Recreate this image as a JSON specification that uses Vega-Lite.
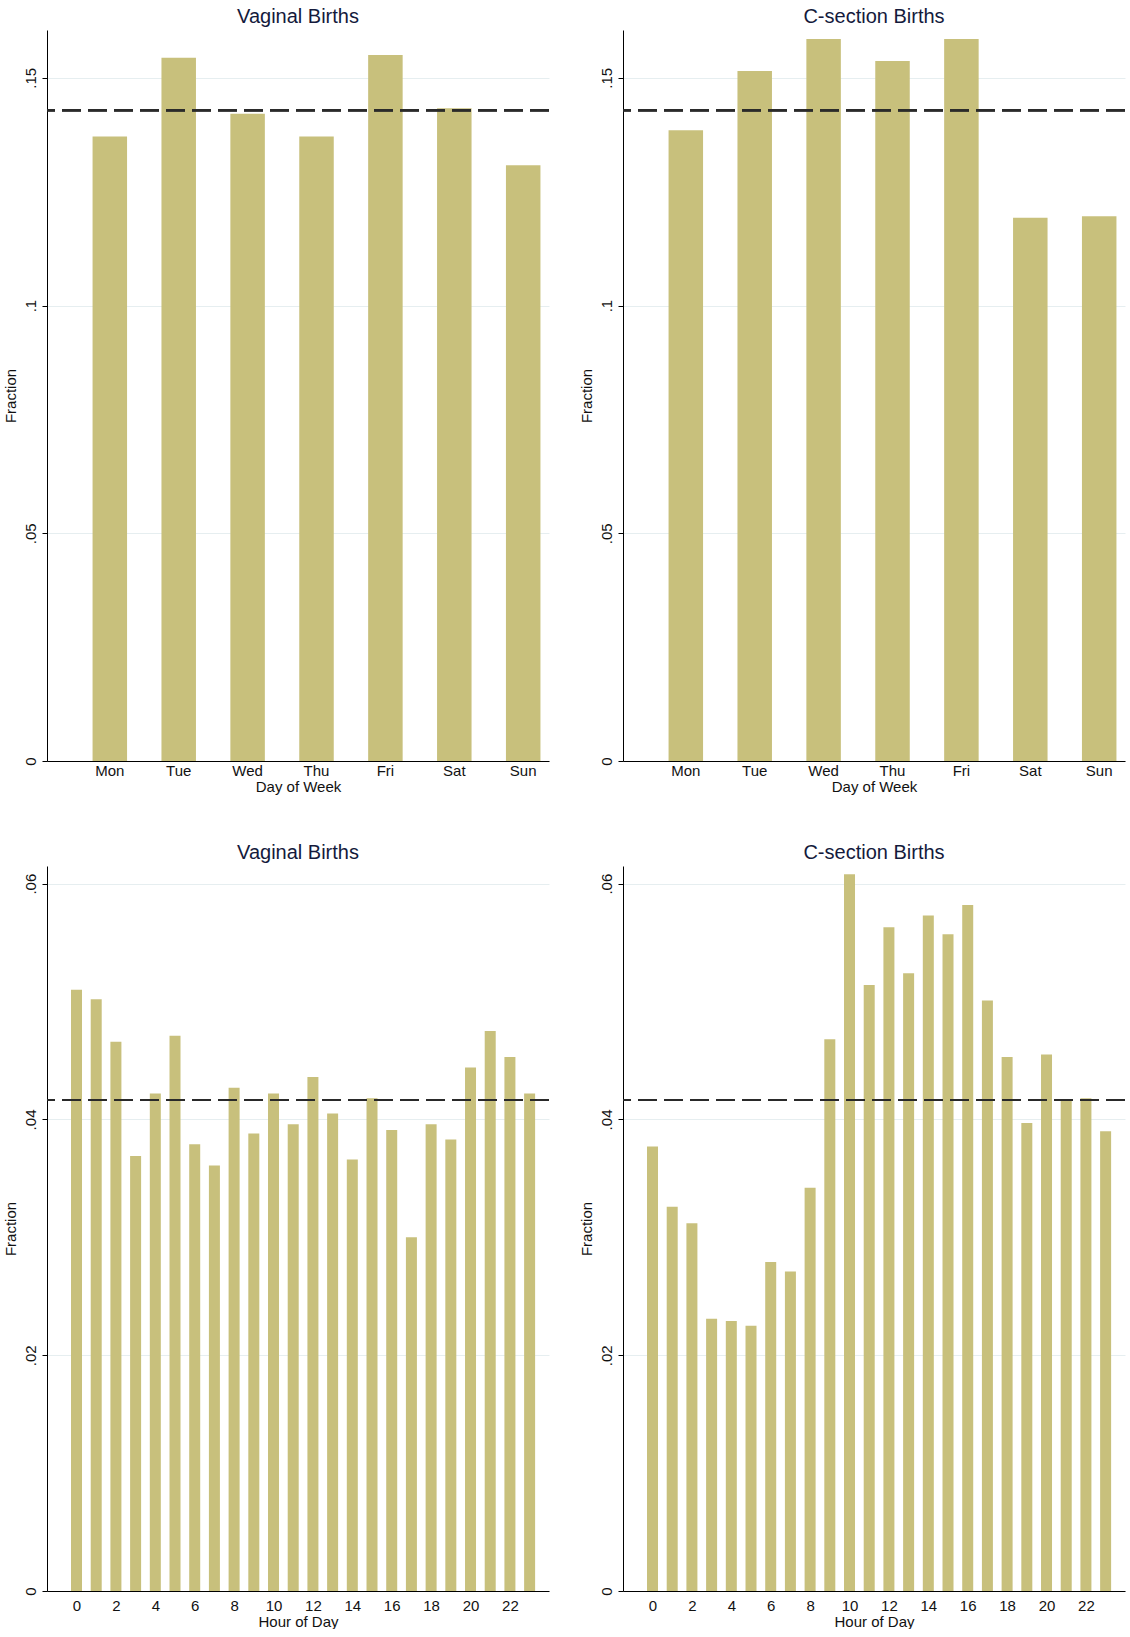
{
  "$schema": "https://vega.github.io/schema/vega-lite/v6.json",
  "background": "white",
  "padding": {"left": 2, "top": 7, "right": 0, "bottom": 0},
  "datasets": {
    "vag_day": [
      {"day": "Mon", "fraction": 0.1371},
      {"day": "Tue", "fraction": 0.1544},
      {"day": "Wed", "fraction": 0.1421},
      {"day": "Thu", "fraction": 0.1371},
      {"day": "Fri", "fraction": 0.1550},
      {"day": "Sat", "fraction": 0.1433},
      {"day": "Sun", "fraction": 0.1308}
    ],
    "cs_day": [
      {"day": "Mon", "fraction": 0.1385},
      {"day": "Tue", "fraction": 0.1515},
      {"day": "Wed", "fraction": 0.1585},
      {"day": "Thu", "fraction": 0.1537},
      {"day": "Fri", "fraction": 0.1585},
      {"day": "Sat", "fraction": 0.1193},
      {"day": "Sun", "fraction": 0.1196}
    ],
    "vag_hour": [
      {"hour": 0, "fraction": 0.0510},
      {"hour": 1, "fraction": 0.0502},
      {"hour": 2, "fraction": 0.0466},
      {"hour": 3, "fraction": 0.0369},
      {"hour": 4, "fraction": 0.0422},
      {"hour": 5, "fraction": 0.0471},
      {"hour": 6, "fraction": 0.0379},
      {"hour": 7, "fraction": 0.0361},
      {"hour": 8, "fraction": 0.0427},
      {"hour": 9, "fraction": 0.0388},
      {"hour": 10, "fraction": 0.0422},
      {"hour": 11, "fraction": 0.0396},
      {"hour": 12, "fraction": 0.0436},
      {"hour": 13, "fraction": 0.0405},
      {"hour": 14, "fraction": 0.0366},
      {"hour": 15, "fraction": 0.0418},
      {"hour": 16, "fraction": 0.0391},
      {"hour": 17, "fraction": 0.0300},
      {"hour": 18, "fraction": 0.0396},
      {"hour": 19, "fraction": 0.0383},
      {"hour": 20, "fraction": 0.0444},
      {"hour": 21, "fraction": 0.0475},
      {"hour": 22, "fraction": 0.0453},
      {"hour": 23, "fraction": 0.0422}
    ],
    "cs_hour": [
      {"hour": 0, "fraction": 0.0377},
      {"hour": 1, "fraction": 0.0326},
      {"hour": 2, "fraction": 0.0312},
      {"hour": 3, "fraction": 0.0231},
      {"hour": 4, "fraction": 0.0229},
      {"hour": 5, "fraction": 0.0225},
      {"hour": 6, "fraction": 0.0279},
      {"hour": 7, "fraction": 0.0271},
      {"hour": 8, "fraction": 0.0342},
      {"hour": 9, "fraction": 0.0468},
      {"hour": 10, "fraction": 0.0608},
      {"hour": 11, "fraction": 0.0514},
      {"hour": 12, "fraction": 0.0563},
      {"hour": 13, "fraction": 0.0524},
      {"hour": 14, "fraction": 0.0573},
      {"hour": 15, "fraction": 0.0557},
      {"hour": 16, "fraction": 0.0582},
      {"hour": 17, "fraction": 0.0501},
      {"hour": 18, "fraction": 0.0453},
      {"hour": 19, "fraction": 0.0397},
      {"hour": 20, "fraction": 0.0455},
      {"hour": 21, "fraction": 0.0416},
      {"hour": 22, "fraction": 0.0418},
      {"hour": 23, "fraction": 0.0390}
    ]
  },
  "config": {
    "font": "Liberation Sans",
    "view": {"stroke": null},
    "title": {"fontSize": 20, "fontWeight": "normal", "color": "#141a3c", "anchor": "middle", "frame": "group", "offset": 3},
    "axis": {
      "labelFontSize": 15, "titleFontSize": 15, "titleFontWeight": "normal",
      "labelColor": "#111", "titleColor": "#111", "domainColor": "#000", "domainWidth": 1
    },
    "axisY": {
      "labelAngle": 270, "labelAlign": "center", "labelBaseline": "bottom", "labelPadding": 4,
      "tickColor": "#000", "tickSize": 5, "titlePadding": 5,
      "gridColor": "#e6eef0", "gridWidth": 1,
      "labelExpr": "datum.value == 0 ? '0' : replace(format(datum.value, '.2~f'), '0.', '.')"
    },
    "axisX": {"ticks": false, "grid": false, "labelAngle": 0, "titlePadding": 1},
    "bar": {"color": "#c8c07c"},
    "rule": {"color": "#2a2a2a", "strokeDash": [19, 7], "strokeWidth": 1.8}
  },
  "spacing": 49,
  "vconcat": [
    {
      "spacing": 28,
      "hconcat": [
        {
          "title": "Vaginal Births",
          "width": 502, "height": 731,
          "data": {"name": "vag_day"},
          "layer": [
            {
              "mark": "bar",
              "encoding": {
                "x": {"field": "day", "type": "nominal", "sort": null, "title": "Day of Week",
                      "scale": {"paddingInner": 0.4993, "paddingOuter": 0.3927, "align": 0.842},
                      "axis": {"labelPadding": 2}},
                "y": {"field": "fraction", "type": "quantitative", "title": "Fraction",
                      "scale": {"domain": [0, 0.1605], "nice": false},
                      "axis": {"values": [0, 0.05, 0.1, 0.15]}}
              }
            },
            {"mark": "rule", "encoding": {"y": {"datum": 0.142857}}}
          ]
        },
        {
          "title": "C-section Births",
          "width": 502, "height": 731,
          "data": {"name": "cs_day"},
          "layer": [
            {
              "mark": "bar",
              "encoding": {
                "x": {"field": "day", "type": "nominal", "sort": null, "title": "Day of Week",
                      "scale": {"paddingInner": 0.4993, "paddingOuter": 0.3927, "align": 0.842},
                      "axis": {"labelPadding": 2}},
                "y": {"field": "fraction", "type": "quantitative", "title": "Fraction",
                      "scale": {"domain": [0, 0.1605], "nice": false},
                      "axis": {"values": [0, 0.05, 0.1, 0.15]}}
              }
            },
            {"mark": "rule", "encoding": {"y": {"datum": 0.142857}}}
          ]
        }
      ]
    },
    {
      "spacing": 28,
      "hconcat": [
        {
          "title": "Vaginal Births",
          "width": 502, "height": 725,
          "data": {"name": "vag_hour"},
          "layer": [
            {
              "mark": {"type": "bar", "width": 11},
              "encoding": {
                "x": {"field": "hour", "type": "quantitative", "title": "Hour of Day",
                      "scale": {"domain": [-1.244, 23.73], "nice": false, "zero": false},
                      "axis": {"values": [0, 2, 4, 6, 8, 10, 12, 14, 16, 18, 20, 22], "labelPadding": 7}},
                "y": {"field": "fraction", "type": "quantitative", "title": "Fraction",
                      "scale": {"domain": [0, 0.0615], "nice": false},
                      "axis": {"values": [0, 0.02, 0.04, 0.06]}}
              }
            },
            {"mark": "rule", "encoding": {"y": {"datum": 0.041667}}}
          ]
        },
        {
          "title": "C-section Births",
          "width": 502, "height": 725,
          "data": {"name": "cs_hour"},
          "layer": [
            {
              "mark": {"type": "bar", "width": 11},
              "encoding": {
                "x": {"field": "hour", "type": "quantitative", "title": "Hour of Day",
                      "scale": {"domain": [-1.244, 23.73], "nice": false, "zero": false},
                      "axis": {"values": [0, 2, 4, 6, 8, 10, 12, 14, 16, 18, 20, 22], "labelPadding": 7}},
                "y": {"field": "fraction", "type": "quantitative", "title": "Fraction",
                      "scale": {"domain": [0, 0.0615], "nice": false},
                      "axis": {"values": [0, 0.02, 0.04, 0.06]}}
              }
            },
            {"mark": "rule", "encoding": {"y": {"datum": 0.041667}}}
          ]
        }
      ]
    }
  ]
}
